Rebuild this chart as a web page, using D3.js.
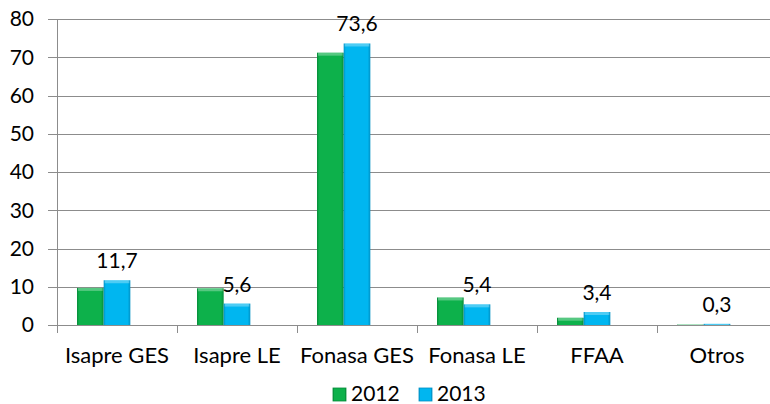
<!DOCTYPE html>
<html><head><meta charset="utf-8">
<script src="https://cdn.jsdelivr.net/npm/d3@7"></script>
<style>
html,body{margin:0;padding:0;background:#fff;}
svg{display:block;font-family:Lato,"Open Sans",sans-serif;}
</style></head>
<body><svg id="c" width="770" height="404"></svg>
<script>
const categories = ["Isapre GES","Isapre LE","Fonasa GES","Fonasa LE","FFAA","Otros"];
const series = ["2012","2013"];
const values2012 = [9.7, 9.6, 71.2, 7.2, 1.9, 0.1];
const values2013 = [11.7, 5.6, 73.6, 5.4, 3.4, 0.3];
const yTicks = [0,10,20,30,40,50,60,70,80];
const colors = {"2012":"#0DB14B","2013":"#00B6F0"};
const dark = {"2012":"#078A39","2013":"#0090C4"};

(function(){
const svg = d3.select("#c");
const pLeft = 57, pRight = 777, pTop = 19, pBottom = 325;

const x = d3.scaleBand().domain(categories).range([pLeft,pRight]).padding(0);
const xs = d3.scaleBand().domain(["2012","2013","_"]).range([0,x.bandwidth()]).paddingInner(0).paddingOuter(0.75);
const y = d3.scaleLinear().domain([0,80]).range([pBottom,pTop]);
const fmt = d3.formatLocale({decimal:",",thousands:".",grouping:[3],currency:["",""]}).format(".1f");

const defs = svg.append("defs");
series.forEach(s=>{
  const g = defs.append("linearGradient").attr("id","g"+s).attr("x1","0").attr("x2","1").attr("y1","0").attr("y2","0");
  g.append("stop").attr("offset","0").attr("stop-color",dark[s]);
  g.append("stop").attr("offset","0.08").attr("stop-color",colors[s]);
  g.append("stop").attr("offset","0.9").attr("stop-color",colors[s]);
  g.append("stop").attr("offset","1").attr("stop-color",dark[s]);
});

svg.append("g").selectAll("line").data(yTicks).join("line")
  .attr("x1",pLeft-9).attr("x2",pRight).attr("y1",d=>Math.round(y(d))+0.5).attr("y2",d=>Math.round(y(d))+0.5)
  .attr("stroke","#8c8c8c").attr("stroke-width",1);

svg.append("line").attr("x1",pLeft+0.5).attr("x2",pLeft+0.5).attr("y1",pTop).attr("y2",pBottom+8).attr("stroke","#8c8c8c");

svg.append("g").selectAll("text").data(yTicks).join("text")
  .attr("x",34).attr("y",d=>y(d)).attr("dy","0.35em").attr("text-anchor","end")
  .attr("font-size",21).attr("fill","#000").text(d=>d);

svg.append("g").selectAll("line").data(categories.slice(1)).join("line")
  .attr("x1",d=>Math.round(x(d))+0.5).attr("x2",d=>Math.round(x(d))+0.5)
  .attr("y1",pBottom).attr("y2",pBottom+8).attr("stroke","#8c8c8c");

const data = [];
categories.forEach((c,i)=>{
  data.push({c,s:"2012",v:values2012[i]});
  data.push({c,s:"2013",v:values2013[i]});
});
const bars = svg.append("g").selectAll("g").data(data).join("g");
bars.append("rect")
  .attr("x",d=>x(d.c)+xs(d.s)).attr("width",xs.bandwidth())
  .attr("y",d=>y(d.v)).attr("height",d=>y(0)-y(d.v))
  .attr("fill",d=>"url(#g"+d.s+")");
bars.append("rect")
  .attr("x",d=>x(d.c)+xs(d.s)+1).attr("width",xs.bandwidth()-2)
  .attr("y",d=>y(d.v)).attr("height",d=>Math.min(3,y(0)-y(d.v)))
  .attr("fill","#fff").attr("opacity",0.3);

svg.append("g").selectAll("text").data(data.filter(d=>d.s==="2013")).join("text")
  .attr("x",d=>x(d.c)+xs(d.s)+xs.bandwidth()/2).attr("y",d=>y(d.v)-12)
  .attr("text-anchor","middle").attr("font-size",21).attr("fill","#000")
  .text(d=>fmt(d.v));

svg.append("g").selectAll("text").data(categories).join("text")
  .attr("x",d=>x(d)+x.bandwidth()/2).attr("y",362.5).attr("text-anchor","middle")
  .attr("font-size",22).attr("fill","#000").text(d=>d);

const lx = [333,419];
const lg = svg.append("g").selectAll("g").data(series).join("g")
  .attr("transform",(d,i)=>`translate(${lx[i]},388)`);
lg.append("rect").attr("width",13).attr("height",13).attr("fill",d=>"url(#g"+d+")")
  .attr("stroke",d=>dark[d]).attr("stroke-width",0.8);
lg.append("text").attr("x",18).attr("y",13).attr("font-size",21).attr("fill","#000").text(d=>d);
})();
</script></body></html>
